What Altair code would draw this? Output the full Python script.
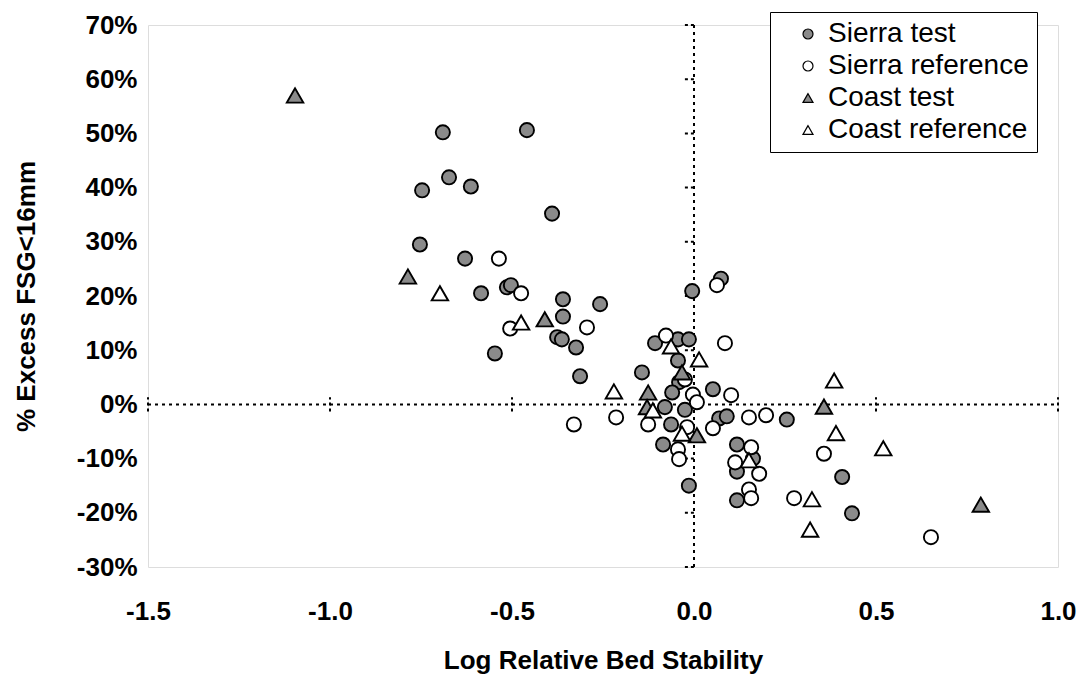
import altair as alt
import pandas as pd

series_names = ["Sierra test", "Sierra reference", "Coast test", "Coast reference"]

sierra_test_x = [-0.69, -0.459, -0.673, -0.747, -0.613, -0.39, -0.753, -0.629, -0.585, -0.514,
                 -0.503, -0.36, -0.258, -0.36, -0.376, -0.363, -0.324, -0.547, -0.313, -0.143,
                 -0.005, 0.074, -0.107, -0.044, -0.014, -0.044, -0.041, -0.06, 0.052, -0.08,
                 -0.025, -0.063, 0.069, 0.09, 0.255, -0.085, -0.014, 0.118, 0.162, 0.118,
                 0.118, 0.407, 0.434]
sierra_test_y = [50.2, 50.6, 41.9, 39.5, 40.2, 35.2, 29.5, 26.9, 20.5, 21.6,
                 22.0, 19.4, 18.5, 16.2, 12.4, 12.0, 10.5, 9.4, 5.2, 5.9,
                 20.9, 23.2, 11.3, 12.0, 12.0, 8.1, 4.1, 2.2, 2.8, -0.5,
                 -1.0, -3.7, -2.6, -2.2, -2.8, -7.4, -15.0, -7.4, -10.0, -12.4,
                 -17.7, -13.4, -20.1]

sierra_ref_x = [-0.536, -0.475, -0.505, -0.294, -0.33, -0.214, -0.077, 0.063, 0.085, -0.025,
                -0.003, 0.008, 0.102, -0.126, -0.019, 0.052, 0.151, 0.198, -0.044, -0.041,
                0.157, 0.113, 0.179, 0.151, 0.157, 0.275, 0.357, 0.651]
sierra_ref_y = [26.9, 20.5, 14.0, 14.2, -3.7, -2.4, 12.7, 22.0, 11.3, 4.6,
                1.8, 0.4, 1.7, -3.7, -4.2, -4.4, -2.4, -2.0, -8.3, -10.1,
                -7.9, -10.7, -12.8, -15.7, -17.3, -17.3, -9.1, -24.5]

coast_test_x = [-1.096, -0.786, -0.41, -0.126, -0.129, -0.033, 0.008, 0.357, 0.788]
coast_test_y = [57.0, 23.6, 15.7, 2.2, -0.5, 5.9, -5.7, -0.4, -18.5]

coast_ref_x = [-0.698, -0.475, -0.22, -0.063, -0.113, -0.033, 0.014, 0.151, 0.385, 0.39,
               0.52, 0.324, 0.319]
coast_ref_y = [20.5, 15.1, 2.4, 10.7, -1.1, -5.4, 8.3, -10.3, 4.4, -5.3,
               -8.1, -17.5, -23.1]

x_ticks = [-1.5, -1.0, -0.5, 0.0, 0.5, 1.0]
y_ticks = [-0.3, -0.2, -0.1, 0.0, 0.1, 0.2, 0.3, 0.4, 0.5, 0.6, 0.7]


def make_df(groups):
    rows = []
    for k, (name, xs, ys) in enumerate(groups):
        for i, (x, y) in enumerate(zip(xs, ys)):
            rows.append({"series": name, "x": x, "y": y / 100.0, "ord": k * 1000 + i})
    return pd.DataFrame(rows)


sierra_df = make_df([(series_names[0], sierra_test_x, sierra_test_y),
                     (series_names[1], sierra_ref_x, sierra_ref_y)])
coast_df = make_df([(series_names[2], coast_test_x, coast_test_y),
                    (series_names[3], coast_ref_x, coast_ref_y)])

FONT = "Liberation Sans"
GRAY = "#8a8a8a"
FS = 26

x_scale = alt.Scale(domain=[-1.5, 1.0], nice=False, zero=False)
y_scale = alt.Scale(domain=[-0.3, 0.7], nice=False, zero=False)

x_axis = alt.Axis(title="Log Relative Bed Stability", values=x_ticks, format=".1f",
                  labelExpr="replace(datum.label, '\u2212', '-')", labelFlush=False,
                  domain=False, ticks=False, grid=False, labelFont=FONT, labelFontSize=FS,
                  labelFontWeight="bold", labelColor="black", labelPadding=31,
                  titleFont=FONT, titleFontSize=FS, titleFontWeight="bold",
                  titleColor="black", titlePadding=23)
y_axis = alt.Axis(title="% Excess FSG<16mm", values=y_ticks, format=".0%",
                  labelExpr="replace(datum.label, '\u2212', '-')", labelFlush=False,
                  domain=False, ticks=False, grid=False, labelFont=FONT, labelFontSize=FS,
                  labelFontWeight="bold", labelColor="black", labelPadding=11,
                  titleFont=FONT, titleFontSize=FS, titleFontWeight="bold",
                  titleColor="black", titlePadding=37)

legend = alt.Legend(title=None, orient="none", legendX=622, legendY=-13,
                    strokeColor="black", fillColor="white", padding=8,
                    labelFont=FONT, labelFontSize=28, labelColor="black", labelLimit=500,
                    labelExpr="datum.label + '       '",
                    symbolSize=100, symbolStrokeWidth=1.2,
                    symbolOffset=16, labelOffset=6, rowPadding=4, cornerRadius=0)

fill_enc = alt.Fill("series:N", scale=alt.Scale(domain=series_names, range=[GRAY, "white", GRAY, "white"]),
                    legend=legend)
shape_enc = alt.Shape("series:N", scale=alt.Scale(domain=series_names,
                      range=["circle", "circle", "triangle-up", "triangle-up"]), legend=legend)
stroke_enc = alt.Stroke("series:N", scale=alt.Scale(domain=series_names,
                        range=["black", "black", "black", "black"]), legend=legend)

sierra = alt.Chart(sierra_df).mark_point(filled=True, strokeWidth=1.9, opacity=1,
                                         size=200).encode(
    x=alt.X("x:Q", scale=x_scale, axis=x_axis),
    y=alt.Y("y:Q", scale=y_scale, axis=y_axis),
    fill=fill_enc, shape=shape_enc, stroke=stroke_enc, order=alt.Order("ord:Q"),
)
coast = alt.Chart(coast_df).mark_point(filled=True, strokeWidth=1.9, opacity=1,
                                       size=270).encode(
    x=alt.X("x:Q", scale=x_scale),
    y=alt.Y("y:Q", scale=y_scale),
    fill=fill_enc, shape=shape_enc, stroke=stroke_enc, order=alt.Order("ord:Q"),
)

hline_df = pd.DataFrame({"x": [x_ticks[0]], "x2": [x_ticks[-1]], "y": [0.0]})
vline_df = pd.DataFrame({"x": [0.0], "y": [y_ticks[0]], "y2": [y_ticks[-1]]})
ytick_df = pd.DataFrame({"y": y_ticks, "x": [-0.025] * len(y_ticks), "x2": [0.0] * len(y_ticks)})
xt = [v for v in x_ticks if v != 0.0]
xtick_df = pd.DataFrame({"x": xt, "y": [-0.013] * len(xt), "y2": [0.013] * len(xt)})

dash = dict(color="black", strokeWidth=2, strokeDash=[3, 4])
hline = alt.Chart(hline_df).mark_rule(**dash).encode(
    x=alt.X("x:Q", scale=x_scale), x2="x2:Q", y=alt.Y("y:Q", scale=y_scale))
vline = alt.Chart(vline_df).mark_rule(**dash).encode(
    x=alt.X("x:Q", scale=x_scale), y=alt.Y("y:Q", scale=y_scale), y2="y2:Q")
yticks = alt.Chart(ytick_df).mark_rule(color="black", strokeWidth=2, strokeDash=[3, 3]).encode(
    x=alt.X("x:Q", scale=x_scale), x2="x2:Q", y=alt.Y("y:Q", scale=y_scale))
xticks = alt.Chart(xtick_df).mark_rule(color="black", strokeWidth=2, strokeDash=[3, 3]).encode(
    x=alt.X("x:Q", scale=x_scale), y=alt.Y("y:Q", scale=y_scale), y2="y2:Q")

chart = alt.layer(hline, vline, yticks, xticks, sierra, coast).properties(
    width=910, height=542,
    autosize=alt.AutoSizeParams(type="none"),
    padding={"left": 140, "top": 17, "right": 20, "bottom": 108},
).configure_view(stroke=None).configure(background="white")

chart.save("out.html", embed_options={"renderer": "svg", "actions": False})
